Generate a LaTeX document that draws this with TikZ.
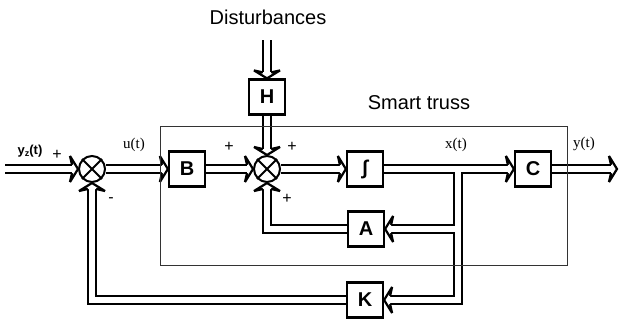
\documentclass[tikz,border=0pt]{standalone}
\usepackage{fontspec}
\setmainfont{Liberation Sans}
\newfontfamily\seriffont{Liberation Serif}
\usetikzlibrary{calc}
\begin{document}
\begin{tikzpicture}[x=1pt,y=-1pt,
  blk/.style={draw,line width=2.2pt,minimum width=36pt,minimum height=35pt,inner sep=0pt,
    font=\fontsize{20}{20}\selectfont\bfseries},
  sumnode/.style={draw,circle,line width=2pt,minimum size=26pt,inner sep=0pt},
  dbl/.style={double,double distance=6pt,line width=2.2pt},
  dbla/.style={dbl,shorten >=6pt},
  ahead/.pic={
    \fill[white] (0,0) -- (-8,13) -- (-6,4.1) -- (-6,-4.1) -- (-8,-13) -- cycle;
    \draw[line width=2.2pt,line join=miter,miter limit=4] (-6,4.1) -- (-8,13) -- (0,0) -- (-8,-13) -- (-6,-4.1);
  },
  lbl/.style={font=\fontsize{15}{15}\selectfont\seriffont},
  sgn/.style={font=\fontsize{16}{16}\selectfont},
  ttl/.style={font=\fontsize{20}{20}\selectfont}]
\useasboundingbox (0,0) rectangle (619,322);

% nodes
\node[sumnode] (s1) at (92,169) {};
\node[blk] (B) at (187,169) {B};
\node[sumnode] (s2) at (267,169) {};
\node[blk] (H) at (267,97) {H};
\node[blk] (I) at (365,169) {∫};
\node[blk] (C) at (533,169) {C};
\node[blk] (A) at (366,229) {A};
\node[blk] (K) at (365,300) {K};
\foreach \s in {s1,s2}{
  \draw[line width=2pt] (\s.north west) -- (\s.south east) (\s.north east) -- (\s.south west);
}
\coordinate (in) at (5,169);
\coordinate (out) at (617,169);
\coordinate (dtop) at (267,40);
\coordinate (j1) at (458,169);

% connectors
\draw[dbla] (in) -- (s1.west);           \pic at (s1.west) {ahead};
\draw[dbla] (s1.east) -- (B.west);       \pic at (B.west) {ahead};
\draw[dbla] (B.east) -- (s2.west);       \pic at (s2.west) {ahead};
\draw[dbla] (dtop) -- (H.north);         \pic[rotate=-90] at (H.north) {ahead};
\draw[dbla] (H.south) -- (s2.north);     \pic[rotate=-90] at (s2.north) {ahead};
\draw[dbla] (s2.east) -- (I.west);       \pic at (I.west) {ahead};
\draw[dbla] (I.east) -- (C.west);        \pic at (C.west) {ahead};
\draw[dbla] (C.east) -- (out);           \pic at (out) {ahead};
\draw[dbla] (j1) |- (K.east);            \pic[rotate=180] at (K.east) {ahead};
\draw[dbla] (j1 |- A.east) -- (A.east);  \pic[rotate=180] at (A.east) {ahead};
\draw[white,line width=6pt] (j1) -- (j1 |- K.east);
\draw[white,line width=6pt] ($(j1)+(-8,0)$) -- ($(j1)+(8,0)$);
\draw[dbla] (A.west) -| (s2.south);      \pic[rotate=90] at (s2.south) {ahead};
\draw[dbla] (K.west) -| (s1.south);      \pic[rotate=90] at (s1.south) {ahead};

% smart truss frame
\draw[line width=0.8pt,black!80] (160,126) rectangle (567,265);

% labels
\node[ttl] (dist) at (268,17) {Disturbances};
\node[ttl] (truss) at (419,103) {Smart truss};
\node[font=\fontsize{13}{13}\selectfont\bfseries] (yz) at (30,151) {y\raisebox{-2pt}{\fontsize{9}{9}\selectfont z}(t)};
\node[sgn] (p1) at (57,155) {+};
\node[sgn] (m1) at (111,200) {-};
\node[lbl] (u) at (134,145) {u(t)};
\node[sgn] (p2) at (229,147) {+};
\node[sgn] (p3) at (292,147) {+};
\node[sgn] (p4) at (287,199) {+};
\node[lbl] (x) at (456,145) {x(t)};
\node[lbl] (y) at (584,144) {y(t)};
\end{tikzpicture}
\end{document}
